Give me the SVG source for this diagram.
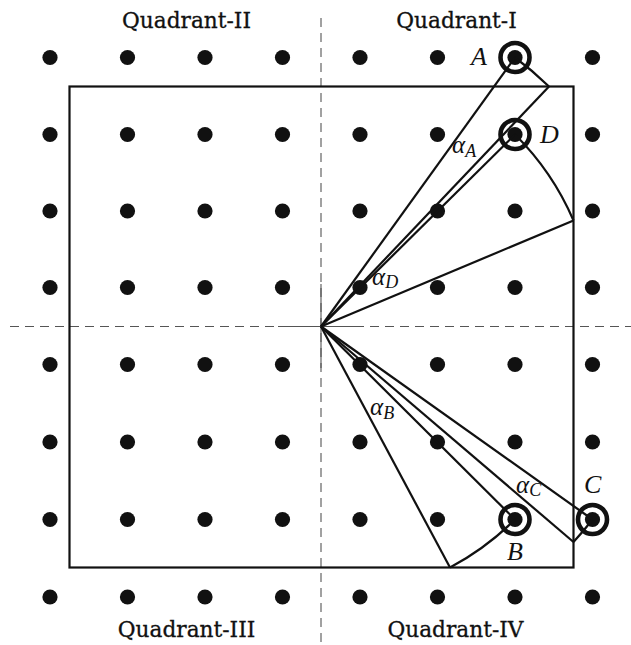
<svg xmlns="http://www.w3.org/2000/svg" width="631" height="645" viewBox="0 0 631 645">
<defs>
<style>
.axis{stroke:#555;stroke-width:1.1;stroke-dasharray:9 6;fill:none}
.axs{stroke:#555;stroke-width:1.1;fill:none}
.dot{fill:#111}
.ring{fill:none;stroke:#111;stroke-width:4.6}
.ln{stroke:#111;stroke-width:2.2;fill:none}
.frame{fill:none;stroke:#111;stroke-width:2.2}
.quad{font-family:"DejaVu Serif","Liberation Serif",serif;font-size:21.7px;fill:#111;stroke:#111;stroke-width:0.3;text-anchor:middle}
.lab{font-family:"Liberation Serif","DejaVu Serif",serif;font-style:italic;font-size:26px;fill:#111}
.alpha{font-family:"Liberation Serif","DejaVu Serif",serif;font-style:italic;font-size:25px;fill:#111}
.sub{font-family:"Liberation Serif","DejaVu Serif",serif;font-style:italic;font-size:18px;fill:#111}
</style>
</defs>
<rect width="631" height="645" fill="#fff"/>
<g id="axes">
<line class="axis" x1="321" y1="18" x2="321" y2="645"/>
<line class="axis" x1="10" y1="326.5" x2="631" y2="326.5"/>
<line class="axs" x1="321" y1="284" x2="321" y2="368"/>
<line class="axs" x1="278" y1="326.5" x2="362" y2="326.5"/>
</g>
<g id="frame">
<rect class="frame" x="69.5" y="86.5" width="504" height="481"/>
</g>
<g id="grid">
<circle class="dot" cx="50" cy="57.5" r="7.6"/><circle class="dot" cx="127.5" cy="57.5" r="7.6"/><circle class="dot" cx="205" cy="57.5" r="7.6"/><circle class="dot" cx="282.5" cy="57.5" r="7.6"/><circle class="dot" cx="360" cy="57.5" r="7.6"/><circle class="dot" cx="437.5" cy="57.5" r="7.6"/><circle class="dot" cx="515" cy="57.5" r="7.6"/><circle class="dot" cx="592.5" cy="57.5" r="7.6"/>
<circle class="dot" cx="50" cy="134.5" r="7.6"/><circle class="dot" cx="127.5" cy="134.5" r="7.6"/><circle class="dot" cx="205" cy="134.5" r="7.6"/><circle class="dot" cx="282.5" cy="134.5" r="7.6"/><circle class="dot" cx="360" cy="134.5" r="7.6"/><circle class="dot" cx="437.5" cy="134.5" r="7.6"/><circle class="dot" cx="515" cy="134.5" r="7.6"/><circle class="dot" cx="592.5" cy="134.5" r="7.6"/>
<circle class="dot" cx="50" cy="211" r="7.6"/><circle class="dot" cx="127.5" cy="211" r="7.6"/><circle class="dot" cx="205" cy="211" r="7.6"/><circle class="dot" cx="282.5" cy="211" r="7.6"/><circle class="dot" cx="360" cy="211" r="7.6"/><circle class="dot" cx="437.5" cy="211" r="7.6"/><circle class="dot" cx="515" cy="211" r="7.6"/><circle class="dot" cx="592.5" cy="211" r="7.6"/>
<circle class="dot" cx="50" cy="287.5" r="7.6"/><circle class="dot" cx="127.5" cy="287.5" r="7.6"/><circle class="dot" cx="205" cy="287.5" r="7.6"/><circle class="dot" cx="282.5" cy="287.5" r="7.6"/><circle class="dot" cx="360" cy="287.5" r="7.6"/><circle class="dot" cx="437.5" cy="287.5" r="7.6"/><circle class="dot" cx="515" cy="287.5" r="7.6"/><circle class="dot" cx="592.5" cy="287.5" r="7.6"/>
<circle class="dot" cx="50" cy="364.5" r="7.6"/><circle class="dot" cx="127.5" cy="364.5" r="7.6"/><circle class="dot" cx="205" cy="364.5" r="7.6"/><circle class="dot" cx="282.5" cy="364.5" r="7.6"/><circle class="dot" cx="360" cy="364.5" r="7.6"/><circle class="dot" cx="437.5" cy="364.5" r="7.6"/><circle class="dot" cx="515" cy="364.5" r="7.6"/><circle class="dot" cx="592.5" cy="364.5" r="7.6"/>
<circle class="dot" cx="50" cy="442" r="7.6"/><circle class="dot" cx="127.5" cy="442" r="7.6"/><circle class="dot" cx="205" cy="442" r="7.6"/><circle class="dot" cx="282.5" cy="442" r="7.6"/><circle class="dot" cx="360" cy="442" r="7.6"/><circle class="dot" cx="437.5" cy="442" r="7.6"/><circle class="dot" cx="515" cy="442" r="7.6"/><circle class="dot" cx="592.5" cy="442" r="7.6"/>
<circle class="dot" cx="50" cy="519.5" r="7.6"/><circle class="dot" cx="127.5" cy="519.5" r="7.6"/><circle class="dot" cx="205" cy="519.5" r="7.6"/><circle class="dot" cx="282.5" cy="519.5" r="7.6"/><circle class="dot" cx="360" cy="519.5" r="7.6"/><circle class="dot" cx="437.5" cy="519.5" r="7.6"/><circle class="dot" cx="515" cy="519.5" r="7.6"/><circle class="dot" cx="592.5" cy="519.5" r="7.6"/>
<circle class="dot" cx="50" cy="597" r="7.6"/><circle class="dot" cx="127.5" cy="597" r="7.6"/><circle class="dot" cx="205" cy="597" r="7.6"/><circle class="dot" cx="282.5" cy="597" r="7.6"/><circle class="dot" cx="360" cy="597" r="7.6"/><circle class="dot" cx="437.5" cy="597" r="7.6"/><circle class="dot" cx="515" cy="597" r="7.6"/><circle class="dot" cx="592.5" cy="597" r="7.6"/>
</g>
<g id="connectors">
<path class="ln" d="M321 326.5 L515 57.5"/>
<path class="ln" d="M321 326.5 L549 86.5"/>
<path class="ln" d="M515 57.5 A331.5 331.5 0 0 1 549 86.5"/>
<path class="ln" d="M321 326.5 L515 134.5"/>
<path class="ln" d="M321 326.5 L573.5 220.5"/>
<path class="ln" d="M515 134.5 A273 273 0 0 1 573.5 220.5"/>
<path class="ln" d="M321 326.5 L515 519.5"/>
<path class="ln" d="M321 326.5 L450 567.5"/>
<path class="ln" d="M515 519.5 A273.5 273.5 0 0 1 450 567.5"/>
<path class="ln" d="M321 326.5 L592.5 519.5"/>
<path class="ln" d="M321 326.5 L573.5 542"/>
<path class="ln" d="M592.5 519.5 A333 333 0 0 1 573.5 542"/>
</g>
<g id="node-A"><circle class="ring" cx="515" cy="57.5" r="14.5"/><text class="lab" x="471" y="65">A</text></g>
<g id="node-D"><circle class="ring" cx="515" cy="134.5" r="14.5"/><text class="lab" x="540" y="143">D</text></g>
<g id="node-B"><circle class="ring" cx="515" cy="519.5" r="14.5"/><text class="lab" x="507" y="560">B</text></g>
<g id="node-C"><circle class="ring" cx="592.5" cy="519.5" r="14.5"/><text class="lab" x="584" y="493">C</text></g>
<g id="angle-labels">
<text x="452" y="153"><tspan class="alpha">α</tspan><tspan class="sub" dy="4">A</tspan></text>
<text x="372" y="285"><tspan class="alpha">α</tspan><tspan class="sub" dy="3">D</tspan></text>
<text x="370" y="415"><tspan class="alpha">α</tspan><tspan class="sub" dy="4">B</tspan></text>
<text x="516" y="493"><tspan class="alpha">α</tspan><tspan class="sub" dy="3">C</tspan></text>
</g>
<g id="quadrant-labels">
<text class="quad" x="456.5" y="28">Quadrant-I</text>
<text class="quad" x="186.5" y="28">Quadrant-II</text>
<text class="quad" x="186.5" y="637">Quadrant-III</text>
<text class="quad" x="455.5" y="637">Quadrant-IV</text>
</g>
</svg>
